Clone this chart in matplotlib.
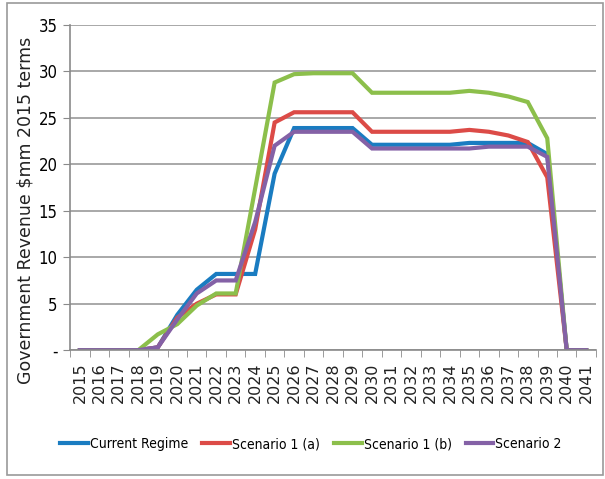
import numpy as np
import matplotlib.pyplot as plt
from matplotlib.patches import Rectangle

years = [str(y) for y in range(2015, 2042)]

current_regime = [0, 0, 0, 0, 0.3, 3.8, 6.5, 8.2, 8.2, 8.2, 19.0, 23.9, 23.9, 23.9, 23.9,
                  22.1, 22.1, 22.1, 22.1, 22.1, 22.3, 22.3, 22.3, 22.3, 21.1, 0, 0]
scenario_1a = [0, 0, 0, 0, 0.3, 3.5, 5.0, 6.0, 6.0, 13.0, 24.5, 25.6, 25.6, 25.6, 25.6,
               23.5, 23.5, 23.5, 23.5, 23.5, 23.7, 23.5, 23.1, 22.4, 18.6, 0, 0]
scenario_1b = [0, 0, 0, 0, 1.7, 2.8, 4.8, 6.1, 6.1, 17.4, 28.8, 29.7, 29.8, 29.8, 29.8,
               27.7, 27.7, 27.7, 27.7, 27.7, 27.9, 27.7, 27.3, 26.7, 22.8, 0, 0]
scenario_2 = [0, 0, 0, 0, 0.3, 3.3, 6.1, 7.5, 7.5, 13.8, 22.0, 23.5, 23.5, 23.5, 23.5,
              21.7, 21.7, 21.7, 21.7, 21.7, 21.7, 21.9, 21.9, 21.9, 20.8, 0, 0]

series = [
    ("Current Regime", current_regime, "#1a7cc1"),
    ("Scenario 1 (a)", scenario_1a, "#dc4b47"),
    ("Scenario 1 (b)", scenario_1b, "#8cbf4b"),
    ("Scenario 2", scenario_2, "#8461a6"),
]

# narrow face for ticks and legend, wide one for axis label and years
narrow = dict(family='DejaVu Sans', stretch='condensed')
wide = 'DejaVu Sans'

fig = plt.figure(figsize=(6.05, 4.79), dpi=100)
ax = fig.add_axes([0.116, 0.269, 0.869, 0.679])

x = np.arange(len(years))
for name, vals, col in series:
    ax.plot(x, vals, color=col, lw=3.0, label=name, solid_joinstyle='miter')

ax.set_xlim(-0.5, len(years) - 0.5)
ax.set_ylim(0, 35)
ax.set_yticks(np.arange(0, 36, 5))
ax.set_yticklabels(['-'] + [str(v) for v in range(5, 36, 5)], fontsize=12, **narrow)
ax.yaxis.grid(True, color='#9a9a9a', lw=1.2)
ax.set_axisbelow(True)

ax.set_xticks(x)
ax.set_xticklabels(years, rotation=90, family=wide, fontsize=11.5, color='#222222')
ax.set_xticks(np.arange(-0.5, len(years), 1), minor=True)
ax.tick_params(axis='x', which='major', length=0, pad=9)
ax.tick_params(axis='x', which='minor', length=5, color='#8a8a8a')
ax.tick_params(axis='y', length=5, color='#8a8a8a', pad=4)

for s in ['top', 'right']:
    ax.spines[s].set_visible(False)
for s in ['left', 'bottom']:
    ax.spines[s].set_color('#8a8a8a')
    ax.spines[s].set_linewidth(1.2)

ax.set_ylabel("Government Revenue $mm 2015 terms", family=wide, fontsize=12.5, color='#222222')
ax.yaxis.set_label_coords(-0.067, 0.43)

leg = fig.legend(loc='center', bbox_to_anchor=(0.514, 0.073), ncol=4, frameon=False,
                 prop={'family': 'DejaVu Sans', 'stretch': 'condensed', 'size': 10},
                 handlelength=2.0, handletextpad=0.15, columnspacing=1.0)

fig.patches.append(Rectangle((7 / 605, 4 / 479), 596 / 605, 472 / 479, transform=fig.transFigure,
                             fill=False, edgecolor='#9a9a9a', lw=1.2))

fig.savefig("out.png", dpi=100)
